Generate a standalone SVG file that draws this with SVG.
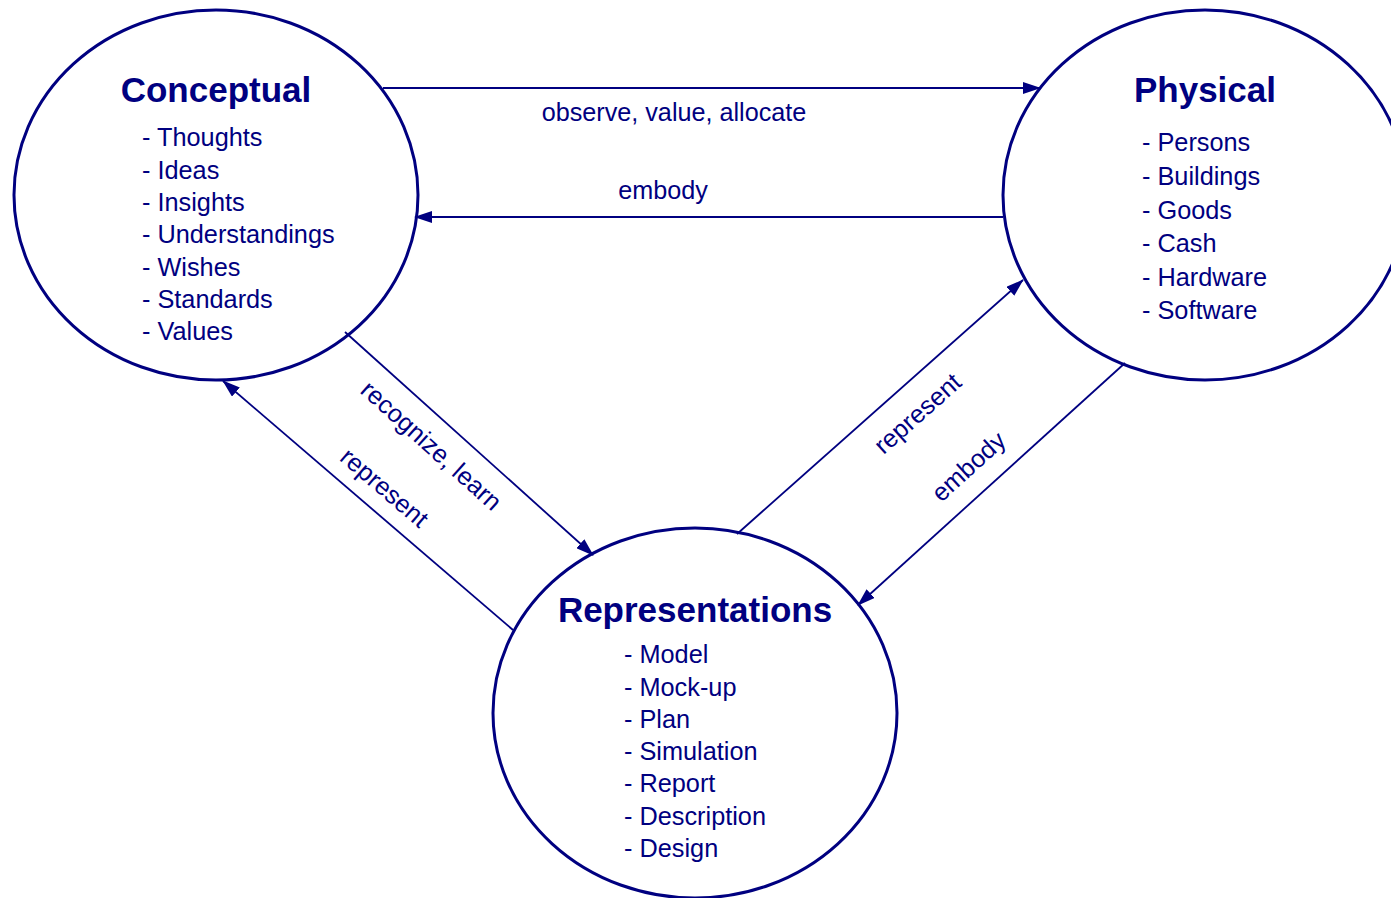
<svg xmlns="http://www.w3.org/2000/svg" width="1391" height="898" viewBox="0 0 1391 898">
<defs>
<marker id="arr" markerUnits="userSpaceOnUse" markerWidth="18" markerHeight="12" refX="17" refY="6" orient="auto">
<path d="M0,0 L18,6 L0,12 Z" fill="#000080"/>
</marker>
<style>
.node{fill:#fff;stroke:#000080;stroke-width:3}
.title{font-family:"Liberation Sans",Arial,sans-serif;font-weight:bold;font-size:35px;fill:#000080;text-anchor:middle}
.item{font-family:"Liberation Sans",Arial,sans-serif;font-size:25.3px;fill:#000080}
.lbl{font-family:"Liberation Sans",Arial,sans-serif;font-size:25.2px;fill:#000080;text-anchor:middle}
.edge{stroke:#000080;stroke-width:1.8;fill:none}
</style>
</defs>
<rect width="1391" height="898" fill="#fff"/>
<g id="conceptual">
<ellipse class="node" cx="216" cy="195" rx="202" ry="185"/>
<text class="title" x="216" y="102">Conceptual</text>
<text class="item" x="142" y="146">- Thoughts</text>
<text class="item" x="142" y="179">- Ideas</text>
<text class="item" x="142" y="211">- Insights</text>
<text class="item" x="142" y="243">- Understandings</text>
<text class="item" x="142" y="276">- Wishes</text>
<text class="item" x="142" y="308">- Standards</text>
<text class="item" x="142" y="340">- Values</text>
</g>
<g id="physical">
<ellipse class="node" cx="1205" cy="195" rx="202" ry="185"/>
<text class="title" x="1205" y="102">Physical</text>
<text class="item" x="1142" y="151">- Persons</text>
<text class="item" x="1142" y="185">- Buildings</text>
<text class="item" x="1142" y="219">- Goods</text>
<text class="item" x="1142" y="252">- Cash</text>
<text class="item" x="1142" y="286">- Hardware</text>
<text class="item" x="1142" y="319">- Software</text>
</g>
<g id="representations">
<ellipse class="node" cx="695" cy="713" rx="202" ry="185"/>
<text class="title" x="695" y="622">Representations</text>
<text class="item" x="624" y="663">- Model</text>
<text class="item" x="624" y="696">- Mock-up</text>
<text class="item" x="624" y="728">- Plan</text>
<text class="item" x="624" y="760">- Simulation</text>
<text class="item" x="624" y="792">- Report</text>
<text class="item" x="624" y="825">- Description</text>
<text class="item" x="624" y="857">- Design</text>
</g>
<g id="connectors">
<line class="edge" x1="383" y1="88" x2="1040" y2="88" marker-end="url(#arr)"/>
<text class="lbl" x="674" y="121">observe, value, allocate</text>
<line class="edge" x1="1003" y1="217" x2="415" y2="217" marker-end="url(#arr)"/>
<text class="lbl" x="663" y="199">embody</text>
<line class="edge" x1="345" y1="332" x2="593" y2="555" marker-end="url(#arr)"/>
<text class="lbl" transform="translate(431,446) rotate(42)" y="8">recognize, learn</text>
<line class="edge" x1="513" y1="630" x2="223" y2="381" marker-end="url(#arr)"/>
<text class="lbl" transform="translate(384,488) rotate(40.6)" y="8">represent</text>
<line class="edge" x1="737" y1="534" x2="1023" y2="280" marker-end="url(#arr)"/>
<text class="lbl" transform="translate(918,414) rotate(-41.6)" y="8">represent</text>
<line class="edge" x1="1125" y1="363" x2="858" y2="605" marker-end="url(#arr)"/>
<text class="lbl" transform="translate(969,467) rotate(-42.2)" y="8">embody</text>
</g>
</svg>
